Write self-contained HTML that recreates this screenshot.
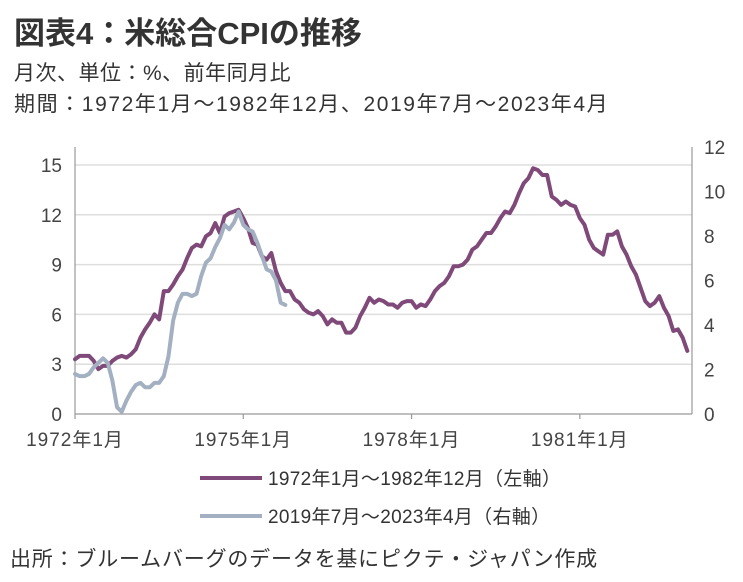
<!DOCTYPE html>
<html><head><meta charset="utf-8">
<style>
body{margin:0;width:743px;height:582px;background:#fff;overflow:hidden;font-family:"Liberation Sans","Noto Sans CJK JP",sans-serif;color:#333;}
.t{position:absolute;left:14px;white-space:nowrap;}
</style></head><body>
<div class="t" style="top:8px;font-size:31px;font-weight:bold;letter-spacing:0px;">図表4：米総合CPIの推移</div>
<div class="t" style="top:57px;font-size:21px;letter-spacing:0.5px;">月次、単位：%、前年同月比</div>
<div class="t" style="top:88px;font-size:21px;letter-spacing:1.6px;">期間：1972年1月～1982年12月、2019年7月～2023年4月</div>
<svg id="chart" width="743" height="582" style="position:absolute;left:0;top:0;"></svg>
<div class="t" style="top:543px;left:10px;font-size:21px;letter-spacing:0.8px;">出所：ブルームバーグのデータを基にピクテ・ジャパン作成</div>
<script>
const leftTicks=[0,3,6,9,12,15];
const rightTicks=[0,2,4,6,8,10,12];
const xTickMonths=[0,36,72,108];
const xTickLabels=["1972年1月","1975年1月","1978年1月","1981年1月"];
const series1Values=[3.3,3.5,3.5,3.5,3.2,2.7,2.9,2.9,3.2,3.4,3.5,3.4,
3.6,3.9,4.6,5.1,5.5,6.0,5.7,7.4,7.4,7.8,8.3,8.7,
9.4,10.0,10.2,10.1,10.7,10.9,11.5,10.9,11.9,12.1,12.2,12.3,
11.8,11.2,10.3,10.2,9.5,9.3,9.7,8.6,7.9,7.4,7.4,6.9,
6.7,6.3,6.1,6.0,6.2,5.9,5.4,5.7,5.5,5.5,4.9,4.9,
5.2,5.9,6.4,7.0,6.7,6.9,6.8,6.6,6.6,6.4,6.7,6.8,
6.8,6.4,6.6,6.5,6.9,7.4,7.7,7.9,8.3,8.9,8.9,9.0,
9.3,9.9,10.1,10.5,10.9,10.9,11.3,11.8,12.2,12.1,12.6,13.3,
13.9,14.2,14.8,14.7,14.4,14.4,13.1,12.9,12.6,12.8,12.6,12.5,
11.8,11.4,10.5,10.0,9.8,9.6,10.8,10.8,11.0,10.1,9.6,8.9,
8.4,7.6,6.8,6.5,6.7,7.1,6.4,5.9,5.0,5.1,4.6,3.8];
const series2Values=[1.8,1.7,1.7,1.8,2.1,2.3,2.5,2.3,1.5,0.3,0.1,0.6,1.0,1.3,1.4,1.2,1.2,1.4,1.4,1.7,2.6,4.2,5.0,5.4,5.4,5.3,5.4,6.2,6.8,7.0,7.5,7.9,8.5,8.3,8.6,9.1,8.5,8.3,8.2,7.7,7.1,6.5,6.4,6.0,5.0,4.9];
const legendLabels=["1972年1月～1982年12月（左軸）","2019年7月～2023年4月（右軸）"];

const NS="http://www.w3.org/2000/svg";
const svg=document.getElementById('chart');
const X0=75,X1=692,Y0=414;
const xs=m=>X0+m*(X1-X0)/132;
const yl=v=>Y0-v*(Y0-165)/15;
const yr=v=>Y0-v*(Y0-147)/12;
function mk(tag,attrs,parent){const e=document.createElementNS(NS,tag);for(const k in attrs)e.setAttribute(k,attrs[k]);(parent||svg).appendChild(e);return e;}

leftTicks.forEach(v=>{
  if(v>0){const g=mk('line',{x1:X0,x2:X1,y1:yl(v),y2:yl(v),stroke:'#dedede','stroke-width':1.5});
  
  }
  const t=mk('text',{x:X0-13,y:yl(v)+7,'text-anchor':'end','font-size':19,fill:'#444'});
  
  
  t.textContent=v;
});
rightTicks.forEach(v=>{
  const t=mk('text',{x:X1+12,y:yr(v)+7,'text-anchor':'start','font-size':19,fill:'#444'});
  
  
  t.textContent=v;
});
let ax=mk('line',{x1:X0,x2:X0,y1:147,y2:Y0,stroke:'#999','stroke-width':1.2});


ax=mk('line',{x1:X1,x2:X1,y1:147,y2:Y0,stroke:'#999','stroke-width':1.2});


ax=mk('line',{x1:X0,x2:X1,y1:Y0,y2:Y0,stroke:'#999','stroke-width':1.2});


xTickMonths.forEach((m,i)=>{
  const tk=mk('line',{x1:xs(m),x2:xs(m),y1:Y0,y2:Y0+5,stroke:'#999','stroke-width':1.2});
  
  
  const t=mk('text',{x:xs(m),y:Y0+32,'text-anchor':'middle','font-size':19,'letter-spacing':1,fill:'#444'});
  
  
  t.textContent=xTickLabels[i];
});
const p2=mk('polyline',{points:series2Values.map((v,i)=>xs(i)+','+yr(v)).join(' '),fill:'none',stroke:'#a3b0c2','stroke-width':4,'stroke-linejoin':'round','stroke-linecap':'round'});


const p1=mk('polyline',{points:series1Values.map((v,i)=>xs(i)+','+yl(v)).join(' '),fill:'none',stroke:'#7f4a7a','stroke-width':4,'stroke-linejoin':'round','stroke-linecap':'round'});


svg.insertBefore(p1,p2);

const colors=['#7f4a7a','#a3b0c2'];
legendLabels.forEach((lab,i)=>{
  const y=478+i*38;
  const l=mk('line',{x1:200,x2:262,y1:y,y2:y,stroke:colors[i],'stroke-width':4});
  
  
  const t=mk('text',{x:268,y:y+7,'font-size':19,'letter-spacing':0.3,fill:'#333'});
  
  
  t.textContent=lab;
});
</script>
</body></html>
